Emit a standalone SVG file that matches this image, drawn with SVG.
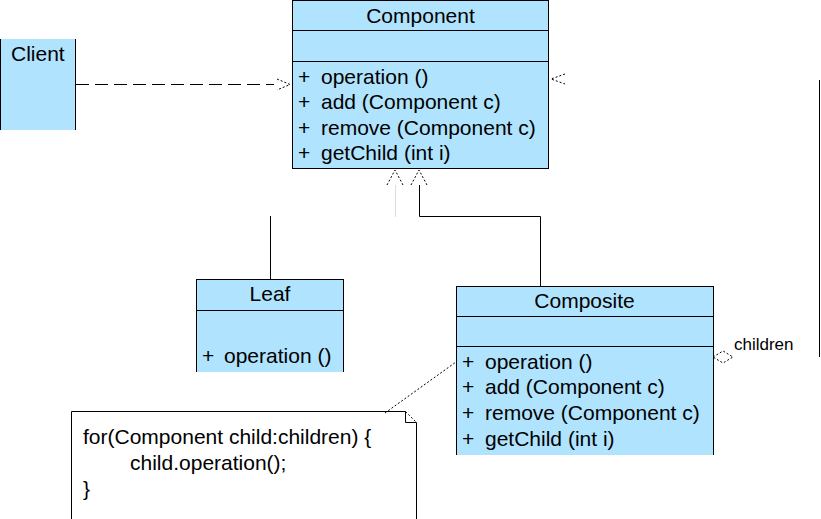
<svg xmlns="http://www.w3.org/2000/svg" width="821" height="519" viewBox="0 0 821 519">
<style>
  text { font-family: "Liberation Sans", Arial, sans-serif; font-size: 21px; fill: #000; }
  .small { font-size: 17px; }
  .fill { fill: #B0E3FE; stroke: none; }
  .ln { stroke: #000; stroke-width: 1; fill: none; }
  .dash { stroke: #000; stroke-width: 1; fill: none; stroke-dasharray: 2 2; }
</style>
<rect width="821" height="519" fill="#fff"/>
<g id="client">
  <rect class="fill" x="0" y="39" width="76" height="91"/>
  <line class="ln" x1="0.5" y1="39" x2="0.5" y2="130"/>
  <line class="ln" x1="75.5" y1="39" x2="75.5" y2="130"/>
  <text x="11" y="61">Client</text>
</g>
<g id="component">
  <rect class="fill" x="292" y="0" width="257" height="169"/>
  <rect class="ln" x="292.5" y="0.5" width="256" height="168"/>
  <line class="ln" x1="292" y1="30.5" x2="549" y2="30.5"/>
  <line class="ln" x1="292" y1="61.5" x2="549" y2="61.5"/>
  <text x="420.5" y="23" text-anchor="middle">Component</text>
  <text x="298" y="83.5">+</text><text x="321" y="83.5">operation ()</text>
  <text x="298" y="109">+</text><text x="321" y="109">add (Component c)</text>
  <text x="298" y="134.5">+</text><text x="321" y="134.5">remove (Component c)</text>
  <text x="298" y="160">+</text><text x="321" y="160">getChild (int i)</text>
</g>
<g id="leaf">
  <rect class="fill" x="196" y="279" width="148" height="93"/>
  <line class="ln" x1="196.5" y1="279" x2="196.5" y2="372"/>
  <line class="ln" x1="343.5" y1="279" x2="343.5" y2="372"/>
  <line class="ln" x1="196" y1="279.5" x2="344" y2="279.5"/>
  <line class="ln" x1="196" y1="310.5" x2="344" y2="310.5"/>
  <text x="270" y="301" text-anchor="middle">Leaf</text>
  <text x="202" y="363">+</text><text x="224" y="363">operation ()</text>
</g>
<g id="composite">
  <rect class="fill" x="456" y="286" width="258" height="169"/>
  <line class="ln" x1="456.5" y1="286" x2="456.5" y2="455"/>
  <line class="ln" x1="713.5" y1="286" x2="713.5" y2="455"/>
  <line class="ln" x1="456" y1="286.5" x2="714" y2="286.5"/>
  <line class="ln" x1="456" y1="316.5" x2="714" y2="316.5"/>
  <line class="ln" x1="456" y1="346.5" x2="714" y2="346.5"/>
  <text x="584.5" y="307.5" text-anchor="middle">Composite</text>
  <text x="462" y="368.5">+</text><text x="485" y="368.5">operation ()</text>
  <text x="462" y="394">+</text><text x="485" y="394">add (Component c)</text>
  <text x="462" y="420">+</text><text x="485" y="420">remove (Component c)</text>
  <text x="462" y="445.5">+</text><text x="485" y="445.5">getChild (int i)</text>
</g>
<g id="note">
  <path d="M71.5,519 L71.5,411.5 L405.5,411.5 L416.5,422.5 L416.5,519 Z" fill="#fff" stroke="none"/>
  <path class="ln" d="M71.5,519 L71.5,411.5 L405.5,411.5"/>
  <path class="ln" d="M405.5,411.5 L405.5,422.5 L416.5,422.5 L416.5,519"/>
  <line class="dash" x1="405.5" y1="411.5" x2="416.5" y2="422.5" stroke-dasharray="1.5 1.5"/>
  <text x="83" y="443.5">for(Component child:children) {</text>
  <text x="130" y="469.5">child.operation();</text>
  <text x="83" y="495.5">}</text>
</g>
<g id="connectors">
  <line class="ln" x1="76" y1="84.5" x2="274" y2="84.5" stroke-dasharray="13 6"/>
  <path class="dash" d="M277,79 L290,84.5 L277,90"/>
  <path class="dash" d="M565,74 L551,79 L565,84"/>
  <line class="ln" x1="819.5" y1="80" x2="819.5" y2="357"/>
  <path class="dash" d="M387,185 L395,170 L403,185"/>
  <path class="dash" d="M411,185 L419,170 L427,185"/>
  <line x1="395.5" y1="185" x2="395.5" y2="217" stroke="#ddd" stroke-width="1"/>
  <path class="ln" d="M419.5,185 L419.5,216.5 L540.5,216.5 L540.5,286"/>
  <line class="ln" x1="270.5" y1="216" x2="270.5" y2="279"/>
  <path class="dash" d="M713,357 L723,351 L733,357 L723,363 Z" stroke-dasharray="1.5 1.5"/>
  <text class="small" x="734" y="349.5">children</text>
  <line class="dash" x1="385" y1="413" x2="456" y2="362" stroke-dasharray="1.5 4"/>
</g>
</svg>
